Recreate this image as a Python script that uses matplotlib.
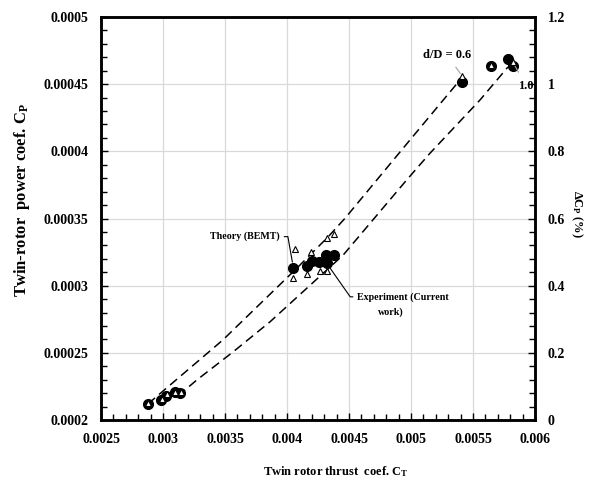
import numpy as np
import matplotlib.pyplot as plt
from matplotlib.ticker import MultipleLocator, FormatStrFormatter

plt.rcParams['font.family'] = ['Liberation Serif', 'DejaVu Serif']
plt.rcParams['font.weight'] = 'bold'
plt.rcParams['mathtext.fontset'] = 'custom'
plt.rcParams['mathtext.rm'] = 'Liberation Serif:bold'
plt.rcParams['mathtext.it'] = 'Liberation Serif:bold'
plt.rcParams['mathtext.bf'] = 'Liberation Serif:bold'

# experiment (filled circles)
exp_ct = [0.002877, 0.002984, 0.003024, 0.003099, 0.003140,
          0.004051, 0.004159, 0.004199, 0.004260, 0.004312, 0.004320, 0.004377,
          0.005411, 0.005648, 0.005785, 0.005820]
exp_cp = [0.0002118, 0.0002150, 0.0002182, 0.0002208, 0.0002200,
          0.0003135, 0.0003150, 0.0003185, 0.0003180, 0.0003229, 0.0003167, 0.0003230,
          0.0004514, 0.0004638, 0.0004685, 0.0004635]

# theory BEMT (open triangles)
th_ct = [0.002880, 0.002990, 0.003030, 0.003100, 0.003145,
         0.004065, 0.004046, 0.004164, 0.004191, 0.004266, 0.004320, 0.004320, 0.004379,
         0.005411, 0.005648, 0.005820]
th_cp = [0.0002125, 0.0002160, 0.0002190, 0.0002212, 0.0002205,
         0.0003272, 0.0003060, 0.0003086, 0.0003254, 0.0003112, 0.0003112, 0.0003354, 0.0003386,
         0.0004563, 0.0004640, 0.0004667]

# dashed trend lines
trend06_ct = [0.002879, 0.003484, 0.004081, 0.004331, 0.004468, 0.004992, 0.005260, 0.005395]
trend06_cp = [0.0002120, 0.0002597, 0.0003132, 0.0003363, 0.0003502, 0.0004085, 0.0004382, 0.0004531]
trend10_ct = [0.003121, 0.003274, 0.003565, 0.003863, 0.004454, 0.004965, 0.005153, 0.005556, 0.005782]
trend10_cp = [0.0002180, 0.0002299, 0.0002507, 0.0002731, 0.0003229, 0.0003787, 0.0003986, 0.0004382, 0.0004628]

fig = plt.figure(figsize=(5.9, 4.82), dpi=100)
ax = fig.add_axes([0.1712, 0.1286, 0.7356, 0.8361])

ax.grid(True, color='#d9d9d9', lw=0.9, zorder=0)
ax.set_axisbelow(True)

ax.plot(trend06_ct, trend06_cp, ls=(0, (6, 3.5)), color='black', lw=1.1, zorder=2)
ax.plot(trend10_ct, trend10_cp, ls=(0, (6, 3.5)), color='black', lw=1.1, zorder=2)
ax.plot(exp_ct, exp_cp, 'o', color='black', ms=7, zorder=3)
ax.plot(th_ct, th_cp, '^', mfc='white', mec='black', mew=0.8, ms=5, zorder=4)

ax.set_xlim(0.0025, 0.006)
ax.set_ylim(0.0002, 0.0005)
ax.xaxis.set_major_locator(MultipleLocator(0.0005))
ax.xaxis.set_minor_locator(MultipleLocator(0.0001))
ax.yaxis.set_major_locator(MultipleLocator(0.00005))
ax.yaxis.set_minor_locator(MultipleLocator(0.00001))
ax.xaxis.set_major_formatter(FormatStrFormatter('%g'))
ax.yaxis.set_major_formatter(FormatStrFormatter('%g'))
ax.tick_params(which='both', direction='in', labelsize=10, top=False, right=False)
ax.tick_params(which='major', length=5, width=1, pad=9)
ax.tick_params(which='minor', length=4, width=1)
for s in ax.spines.values():
    s.set_linewidth(1.8)

ax.set_xlabel('Twin rotor thrust  coef. C$_\\mathrm{T}$', fontsize=9, fontweight='bold')
ax.xaxis.set_label_coords(0.54, -0.11)
ax.set_ylabel('Twin-rotor  power coef. C$_\\mathrm{P}$', fontsize=12, fontweight='bold')
ax.yaxis.set_label_coords(-0.16, 0.546)

ax2 = ax.twinx()
ax2.set_ylim(0, 1.2)
ax2.yaxis.set_major_locator(MultipleLocator(0.2))
ax2.yaxis.set_minor_locator(MultipleLocator(0.04))
ax2.yaxis.set_major_formatter(FormatStrFormatter('%g'))
ax2.tick_params(which='both', direction='in', labelsize=10)
ax2.tick_params(which='major', length=5, width=1, pad=9)
ax2.tick_params(which='minor', length=4, width=1)
for s in ax2.spines.values():
    s.set_linewidth(1.8)
ax2.set_ylabel('$\\Delta$C$_\\mathrm{P}$ (%)', fontsize=9, fontweight='bold', rotation=270)
ax2.yaxis.set_label_coords(1.115, 0.51)

# annotations
ax.annotate('d/D = 0.6', xy=(0.005411, 0.0004563), xytext=(0.00529, 0.0004717),
            fontsize=9, fontweight='bold', ha='center', va='center',
            arrowprops=dict(arrowstyle='-', color='#a0a0a0', lw=0.8, shrinkA=3, shrinkB=2))
ax.annotate('1.0', xy=(0.00582, 0.0004667), xytext=(0.005927, 0.0004487),
            fontsize=9, fontweight='bold', ha='center', va='center',
            arrowprops=dict(arrowstyle='-', color='#a0a0a0', lw=0.8, shrinkA=4, shrinkB=2))
ax.annotate('Theory (BEMT)', xy=(0.004051, 0.0003135), xytext=(0.003944, 0.0003365),
            fontsize=7.2, fontweight='bold', ha='right', va='center',
            arrowprops=dict(arrowstyle='-', color='black', lw=0.8, shrinkA=1, shrinkB=4,
                            connectionstyle='angle,angleA=0,angleB=100,rad=0'))
ax.annotate('Experiment (Current', xy=(0.00432, 0.0003167), xytext=(0.004565, 0.0002917),
            fontsize=7.2, fontweight='bold', ha='left', va='center',
            arrowprops=dict(arrowstyle='-', color='black', lw=0.8, shrinkA=1, shrinkB=3,
                            connectionstyle='angle,angleA=0,angleB=-55,rad=0'))
ax.text(0.004835, 0.0002805, 'work)', fontsize=7.2, fontweight='bold', ha='center', va='center')

fig.savefig('out.png', dpi=100)
